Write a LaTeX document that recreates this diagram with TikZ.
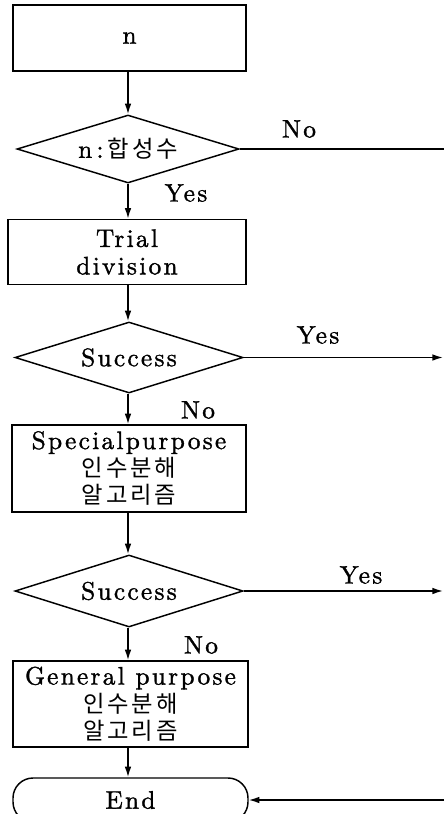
\documentclass[tikz,border=0pt]{standalone}
\usepackage{fontspec}
\usetikzlibrary{shapes.geometric,arrows.meta}
\newfontfamily\lmsp{lmroman10-regular}[Extension=.otf,LetterSpace=9,FakeBold=1.3]
\newfontfamily\kr{Noto Sans CJK KR}[LetterSpace=12]
\newcommand{\krt}[1]{{\kr\fontsize{17.5}{20.6}\selectfont #1}}
\newcommand{\tightlines}{\lineskiplimit=-20pt\relax}
\begin{document}
\begin{tikzpicture}[x=0.75pt,y=-0.75pt,
  every node/.style={inner sep=0pt},
  box/.style={draw,line width=1.1pt,rectangle,align=center,
    font=\fontsize{19}{20.6}\lmsp\tightlines},
  dec/.style={draw,line width=1.1pt,diamond,aspect=3.3,
    font=\fontsize{19}{20}\lmsp},
  term/.style={draw,line width=1.1pt,rectangle,rounded corners=15pt,
    font=\fontsize{19}{20}\lmsp},
  lbl/.style={font=\fontsize{19}{20}\lmsp},
  flow/.style={line width=1.1pt,-{Latex[length=8pt,width=5pt]}},
  plain/.style={line width=1.1pt}]
\useasboundingbox (0,0) rectangle (444,814);
\clip (0,0) rectangle (444,814);
\node[box,minimum width=233*0.75pt,minimum height=66*0.75pt] (b1) at (129.5,38) {n};
\node[dec,minimum width=222*0.75pt,minimum height=68*0.75pt] (d1) at (128,149) {n\,:\,\krt{합성수}};
\node[box,minimum width=238*0.75pt,minimum height=65*0.75pt] (b2) at (127,252) {Trial\\division};
\node[dec,minimum width=228*0.75pt,minimum height=71*0.75pt] (d2) at (129,357.5) {Success};
\node[box,minimum width=234*0.75pt,minimum height=87*0.75pt] (b3) at (129,468.5) {Specialpurpose\\\krt{인수분해}\\\krt{알고리즘}};
\node[dec,minimum width=228*0.75pt,minimum height=72*0.75pt] (d3) at (129,591) {Success};
\node[box,minimum width=235*0.75pt,minimum height=86*0.75pt] (b4) at (130.5,704) {General purpose\\\krt{인수분해}\\\krt{알고리즘}};
\node[term,minimum width=235*0.75pt,minimum height=44*0.75pt] (e) at (130.5,800) {End};
\coordinate (r1) at (444,149);
\coordinate (r2) at (443,357.5);
\coordinate (r3) at (443,591);
\coordinate (r4) at (444,800);
\draw[flow] (b1.south -| 128,0) -- (d1.north);
\draw[flow] (d1.south) -- (b2.north -| d1.south);
\draw[flow] (b2.south -| d1.south) -- (d2.north -| d1.south);
\draw[flow] (d2.south -| d1.south) -- (b3.north -| d1.south);
\draw[flow] (b3.south -| d1.south) -- (d3.north -| d1.south);
\draw[flow] (d3.south -| d1.south) -- (b4.north -| d1.south);
\draw[flow] (b4.south -| d1.south) -- (e.north -| d1.south);
\draw[plain] (d1.east) -- (r1);
\draw[flow] (d2.east) -- (r2);
\draw[flow] (d3.east) -- (r3);
\draw[flow] (r4) -- (e.east);
\node[lbl] (n1) at (299,129) {No};
\node[lbl] (y1) at (186,193) {Yes};
\node[lbl] (y2) at (318,335) {Yes};
\node[lbl] (n2) at (198,410) {No};
\node[lbl] (y3) at (361,575) {Yes};
\node[lbl] (n3) at (201,645) {No};
\end{tikzpicture}
\end{document}
